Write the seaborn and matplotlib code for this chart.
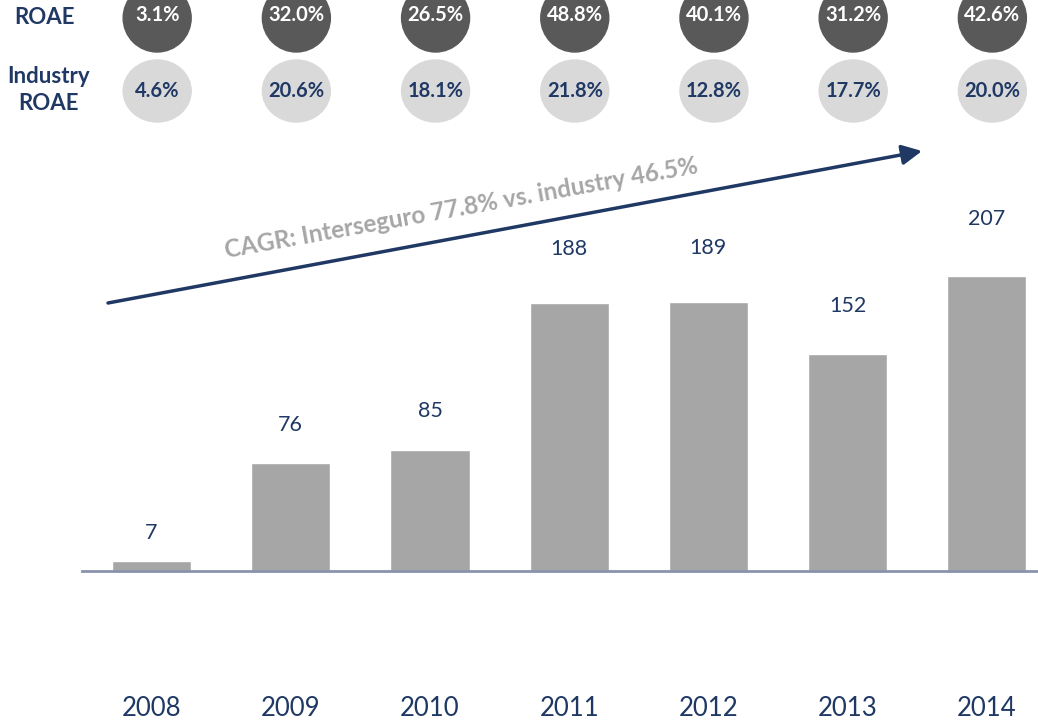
import matplotlib
matplotlib.use("Agg")
import matplotlib.pyplot as plt
from matplotlib.patches import Ellipse
import seaborn as sns
import pandas as pd

# --- data -------------------------------------------------------------
years = ["2008", "2009", "2010", "2011", "2012", "2013", "2014"]
net_income = [7, 76, 85, 188, 189, 152, 207]
roae = ["3.1%", "32.0%", "26.5%", "48.8%", "40.1%", "31.2%", "42.6%"]
industry_roae = ["4.6%", "20.6%", "18.1%", "21.8%", "12.8%", "17.7%", "20.0%"]
cagr_note = "CAGR: Interseguro 77.8% vs. industry 46.5%"

# --- styling ----------------------------------------------------------
NAVY = "#1F3864"
BAR_GREY = "#A6A6A6"
DARK_CIRCLE = "#595959"
LIGHT_CIRCLE = "#D9D9D9"
AXIS_LINE = "#8A93AD"

sns.set_theme(style="white")
plt.rcParams["font.family"] = ["Lato", "DejaVu Sans"]

W, H = 1038, 721
fig = plt.figure(figsize=(W / 100, H / 100), dpi=100)

# axes spans from the left edge of the first category to the right border
ax_left, ax_bottom = 82, 150
ax = fig.add_axes([ax_left / W, ax_bottom / H, (W - ax_left) / W, (H - ax_bottom) / H])

df = pd.DataFrame({"year": years, "value": net_income})
sns.barplot(data=df, x="year", y="value", color=BAR_GREY, width=0.57,
            saturation=1, ax=ax, zorder=2)

px_per_cat = 139.2
px_per_unit = 1.425
ax.set_xlim(-0.5, -0.5 + (W - ax_left) / px_per_cat)
ax.set_ylim(0, (H - ax_bottom) / px_per_unit)

for s in ["top", "right", "left"]:
    ax.spines[s].set_visible(False)
ax.spines["bottom"].set_color(AXIS_LINE)
ax.spines["bottom"].set_linewidth(2)
ax.set_yticks([])
ax.set_xlabel("")
ax.set_ylabel("")
ax.tick_params(axis="x", length=0, pad=90, labelsize=18.5, labelcolor=NAVY)

# value labels above bars
for i, v in enumerate(net_income):
    ax.text(i, 1.10 * v + 19, f"{v}", ha="center", va="center",
            fontsize=15.5, color=NAVY)

# ROAE bubbles
cw = 68 / px_per_cat
for i, (r, ir) in enumerate(zip(roae, industry_roae)):
    y1 = (571 - 18) / px_per_unit
    y2 = (571 - 91) / px_per_unit
    ax.add_patch(Ellipse((i + 0.04, y1), cw, 68 / px_per_unit, color=DARK_CIRCLE,
                         clip_on=False, zorder=3))
    ax.add_patch(Ellipse((i + 0.04, y2), cw, 62 / px_per_unit, color=LIGHT_CIRCLE,
                         clip_on=False, zorder=3))
    ax.text(i + 0.04, y1 + 2, r, ha="center", va="center", fontsize=14.5,
            fontweight="bold", color="white", zorder=4, clip_on=False)
    ax.text(i + 0.04, y2, ir, ha="center", va="center", fontsize=14.5,
            fontweight="bold", color=NAVY, zorder=4, clip_on=False)

# row titles
fig.text(44 / W, 1 - 17 / H, "ROAE", ha="center", va="center",
         fontsize=16, fontweight="bold", color=NAVY)
fig.text(49 / W, 1 - 90 / H, "Industry\nROAE", ha="center", va="center",
         fontsize=16, fontweight="bold", color=NAVY, linespacing=1.4)

# growth arrow and CAGR note
def to_data(px, py):
    return ((px - ax_left) / px_per_cat - 0.5, (571 - py) / px_per_unit)

ax.annotate("", xy=to_data(922, 151), xytext=to_data(108, 303),
            arrowprops=dict(arrowstyle="-|>,head_length=1.0,head_width=0.5",
                            color=NAVY, lw=2.5, shrinkA=0, shrinkB=0),
            annotation_clip=False, zorder=5)
cx, cy = to_data(461, 208)
ax.text(cx, cy, cagr_note, rotation=10.2, rotation_mode="anchor",
        ha="center", va="center", fontsize=17.5, fontweight="bold",
        color=BAR_GREY, zorder=5)

fig.savefig("out.png", dpi=100)
